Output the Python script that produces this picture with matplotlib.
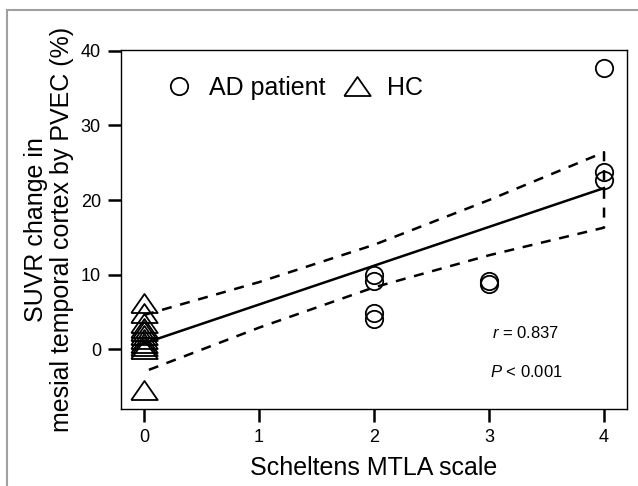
import matplotlib.pyplot as plt
from matplotlib.patches import Rectangle

plt.rcParams['font.family'] = ['Liberation Sans', 'DejaVu Sans']
plt.rcParams['mathtext.fontset'] = 'custom'
plt.rcParams['mathtext.rm'] = 'Liberation Sans'
plt.rcParams['mathtext.it'] = 'Liberation Sans:italic'

# --- data ---
hc_x = [0] * 11
hc_y = [6.2, 4.8, 3.5, 2.9, 2.4, 1.9, 1.4, 0.9, 0.5, 0.1, -5.4]

ad_x = [2, 2, 2, 2, 3, 3, 4, 4, 4]
ad_y = [9.9, 9.1, 4.9, 4.0, 9.1, 8.8, 37.7, 23.7, 22.7]

fit_x = [0, 4]
fit_y = [0.8, 21.6]

ci_x = [0, 1, 2, 3, 4]
ci_upper = [4.6, 9.0, 14.0, 20.0, 26.4]
ci_lower = [-3.0, 2.9, 8.3, 12.6, 16.3]

xticks = [0, 1, 2, 3, 4]
yticks = [0, 10, 20, 30, 40]

fig = plt.figure(figsize=(6.38, 4.86), dpi=100)
ax = fig.add_axes([0.1897, 0.1584, 0.7931, 0.7387])

# wide triangle marker like the original
tri = [(-1, -0.72), (1, -0.72), (0, 0.72), (-1, -0.72)]

ax.plot(ad_x, ad_y, linestyle='none', marker='o', ms=12.5, mfc='none',
        mec='black', mew=1.3, label='AD patient')
ax.plot(hc_x, hc_y, linestyle='none', marker=tri, ms=19, mfc='none',
        mec='black', mew=1.3, label='HC')

ax.plot(fit_x, fit_y, color='black', lw=1.8)

# confidence band drawn as one dashed outline, closed at x = 4
band_x = ci_x + ci_x[::-1]
band_y = ci_upper + ci_lower[::-1]
ax.plot(band_x, band_y, color='black', lw=1.8, linestyle=(0, (4, 3.5)))

ax.set_xlim(-0.2, 4.2)
ax.set_ylim(-8, 40.1)
ax.set_xticks(xticks)
ax.set_yticks(yticks)
ax.tick_params(direction='out', length=9.5, width=1.8, labelsize=13, pad=5)
for s in ax.spines.values():
    s.set_linewidth(1.0)

ax.set_xlabel('Scheltens MTLA scale', fontsize=18, labelpad=7)
ax.set_ylabel('SUVR change in\nmesial temporal cortex by PVEC (%)',
              fontsize=18, linespacing=1.1, labelpad=5)

leg = ax.legend(loc='center left', bbox_to_anchor=(0.09, 0.894), ncol=2,
                frameon=False, fontsize=18, handlelength=1.0,
                handletextpad=0.7, columnspacing=0.75, borderpad=0,
                borderaxespad=0, markerscale=1.0)

ax.text(0.733, 0.212, '$r$ = 0.837', transform=ax.transAxes,
        fontsize=12, va='center', ha='left')
ax.text(0.729, 0.103, '$P$ < 0.001', transform=ax.transAxes,
        fontsize=12, va='center', ha='left')

# thin gray frame of the original figure panel
fig.patches.append(Rectangle((0.011, -0.1), 1.2, 1.079,
                             transform=fig.transFigure, fill=False,
                             edgecolor='#a0a0a0', lw=1.5))

fig.savefig('out.png', dpi=100)
